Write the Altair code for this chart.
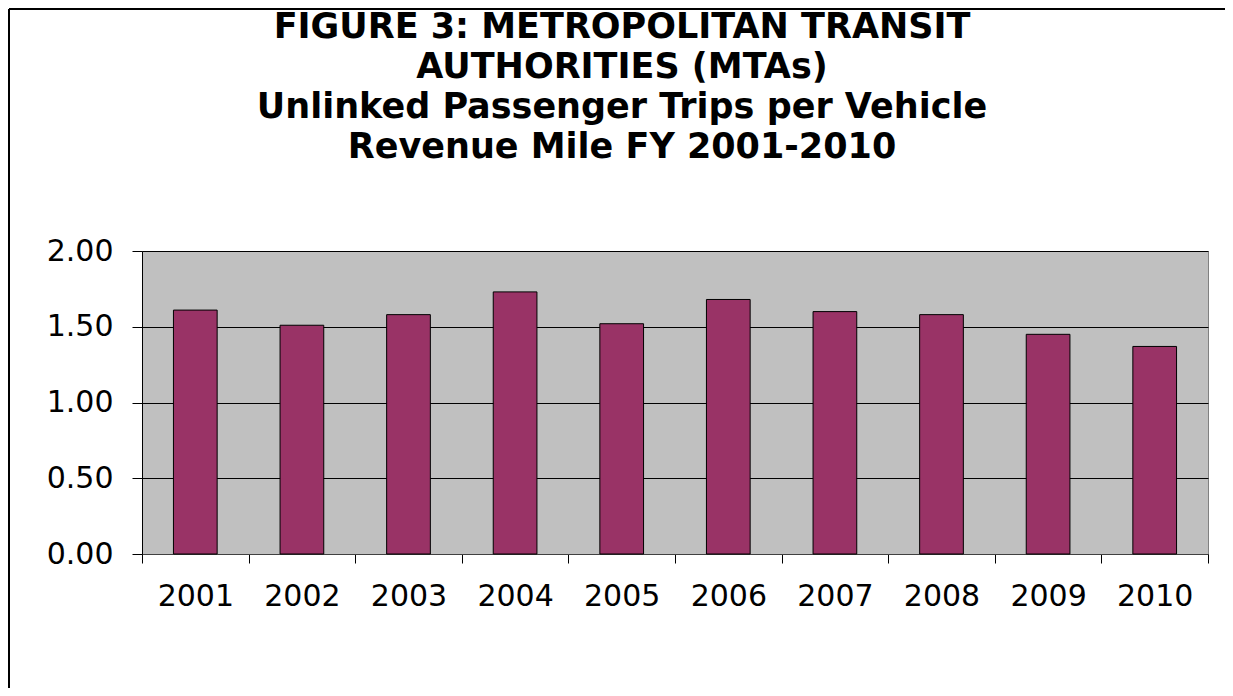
import altair as alt
import pandas as pd

years = ["2001", "2002", "2003", "2004", "2005", "2006", "2007", "2008", "2009", "2010"]
trips = [1.61, 1.51, 1.58, 1.73, 1.52, 1.68, 1.60, 1.58, 1.45, 1.37]
title_lines = [
    "FIGURE 3:  METROPOLITAN TRANSIT",
    "AUTHORITIES (MTAs)",
    "Unlinked Passenger Trips per Vehicle",
    "Revenue Mile FY 2001-2010",
]
y_ticks = [0, 0.5, 1.0, 1.5, 2.0]

df = pd.DataFrame({"year": years, "trips": trips})

W, H = 1066, 303
PAD = {"left": 134, "top": 243, "right": 17, "bottom": 134}

bars = alt.Chart(df).mark_bar(
    width=alt.RelativeBandSize(0.41),
    fill="#993366",
    stroke="#000000",
    strokeWidth=1,
).encode(
    x=alt.X(
        "year:N",
        title=None,
        sort=years,
        scale=alt.Scale(paddingInner=0, paddingOuter=0),
        axis=alt.Axis(
            tickBand="extent",
            labelAngle=0,
            labelFont="DejaVu Sans",
            labelFontSize=30,
            labelColor="#000000",
            labelPadding=18,
            tickSize=9,
            tickColor="#000000",
            domainColor="#404040",
            grid=False,
        ),
    ),
    y=alt.Y(
        "trips:Q",
        title=None,
        scale=alt.Scale(domain=[0, 2], nice=False, zero=True),
        axis=alt.Axis(
            values=y_ticks,
            format=".2f",
            labelFont="DejaVu Sans",
            labelFontSize=30,
            labelColor="#000000",
            labelPadding=19,
            tickSize=10,
            tickColor="#000000",
            domainColor="#000000",
            grid=True,
            gridColor="#000000",
            gridWidth=1,
        ),
    ),
)

frame = pd.DataFrame({"k": [0]})
left_border = alt.Chart(frame).mark_rule(color="#000000", strokeWidth=2).encode(
    x=alt.value(-PAD["left"] + 1),
    y=alt.value(-PAD["top"] + 1),
    y2=alt.value(H + PAD["bottom"]),
)
top_border = alt.Chart(frame).mark_rule(color="#000000", strokeWidth=2).encode(
    x=alt.value(-PAD["left"] + 1),
    x2=alt.value(W + PAD["right"]),
    y=alt.value(-PAD["top"] + 1),
)
title_text = alt.Chart(frame).mark_text(
    text=title_lines,
    font="DejaVu Sans",
    fontSize=35,
    fontWeight="bold",
    color="#000000",
    lineHeight=40,
    align="center",
    baseline="alphabetic",
).encode(
    x=alt.value(480),
    y=alt.value(-213),
)

chart = alt.layer(bars, left_border, top_border, title_text).properties(
    width=W,
    height=H,
    padding=PAD,
    autosize=alt.AutoSizeParams(type="none"),
    background="#FFFFFF",
).configure_view(
    fill="#C0C0C0",
    stroke="#808080",
    strokeWidth=1,
)

chart.save("out.html", embed_options={"renderer": "svg", "actions": False})
